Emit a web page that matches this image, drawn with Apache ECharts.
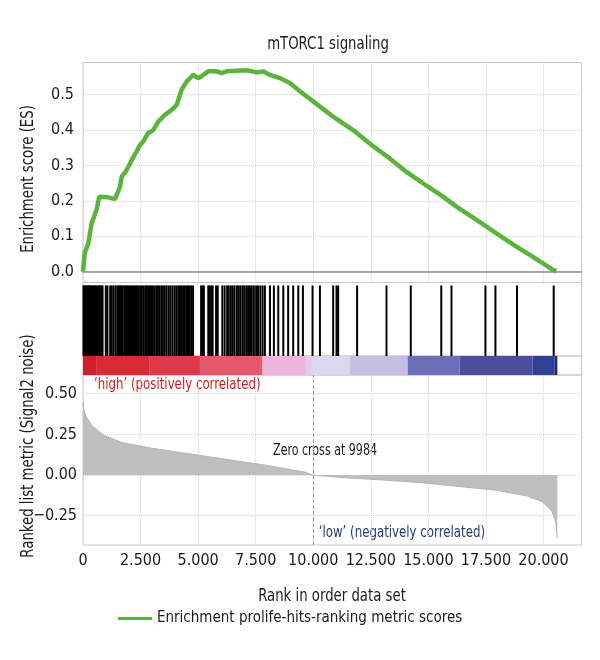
<!DOCTYPE html>
<html>
<head>
<meta charset="utf-8">
<script src="https://cdn.jsdelivr.net/npm/echarts@6/dist/echarts.min.js"></script>
<style>
  html, body { margin: 0; padding: 0; background: #fff; }
  #main { width: 600px; height: 660px; }
</style>
</head>
<body>
<div id="main"></div>
<script>
// running enrichment score
const esRank = [0, 75, 230, 375, 590, 705, 1100, 1390, 1606, 1680, 1897, 2114, 2330, 2474, 2617, 2834, 3051, 3268, 3559, 3850, 4067, 4284, 4500, 4787, 5004, 5152, 5438, 5803, 6020, 6237, 7105, 7539, 7825, 8116, 8550, 8984, 9418, 10863, 11731, 12530, 13324, 14049, 14986, 15637, 16219, 17304, 17955, 18823, 19543, 20411, 20558];
const esScore = [0, 0.053, 0.08, 0.137, 0.175, 0.212, 0.21, 0.205, 0.24, 0.268, 0.287, 0.315, 0.34, 0.358, 0.368, 0.392, 0.40, 0.424, 0.443, 0.457, 0.471, 0.514, 0.537, 0.556, 0.547, 0.552, 0.566, 0.566, 0.561, 0.566, 0.569, 0.563, 0.566, 0.556, 0.547, 0.533, 0.51, 0.438, 0.40, 0.358, 0.32, 0.282, 0.24, 0.212, 0.184, 0.137, 0.108, 0.071, 0.042, 0.005, 0.002];

// gene set hits (rank positions)
const hits = [20, 60, 110, 160, 210, 260, 300, 350, 420, 470, 520, 580, 640, 700,
  730, 790, 850, 990, 1060, 1180, 1250, 1330, 1420, 1500, 1560,
  1610, 1660, 1720, 1790, 1850, 1910, 1980, 2040, 2100, 2170, 2230, 2300, 2360, 2420, 2490, 2550, 2620, 2700, 2760, 2830, 2900, 2960, 3030, 3100, 3180, 3250, 3320, 3400, 3470, 3550, 3630, 3720, 3800, 3890, 3980, 4060, 4140, 4210, 4280, 4350, 4420, 4490, 4560, 4630, 4700, 4780,
  5130, 5190, 5250, 5440, 5500, 5570, 5630, 5780, 5850,
  6050, 6150, 6260, 6330, 6420, 6500, 6580, 6680, 6750, 6830, 6920, 7000, 7090, 7170, 7250, 7330, 7420, 7520, 7600, 7700, 7800, 7900,
  8120, 8290, 8480, 8700, 8910, 9130, 9350, 9550,
  9970, 10290, 10865, 11010, 11081, 11905, 13181, 14236, 15560, 16003, 17478, 17912, 18850, 20443];

// colour bar bands: start rank, end rank, metric level of the band
const barStart = [0, 600, 2900, 5080, 7800, 9720, 9940, 11590, 14100, 16360, 19530, 20480];
const barEnd = [600, 2900, 5080, 7800, 9720, 9940, 11590, 14100, 16360, 19530, 20480, 20600];
const barMetric = [0.40, 0.30, 0.15, 0.09, 0.03, 0.005, -0.01, -0.04, -0.07, -0.10, -0.17, -0.30];

// ranked list metric (Signal2 noise)
const metricRank = [0, 40, 120, 370, 866, 1695, 3025, 4684, 6343, 8002, 9662, 9984, 11322, 12982, 14641, 16301, 17960, 19288, 19952, 20367, 20533, 20600];
const metricValue = [0.446, 0.40, 0.364, 0.306, 0.247, 0.200, 0.164, 0.129, 0.094, 0.059, 0.017, 0, -0.016, -0.030, -0.047, -0.070, -0.094, -0.129, -0.164, -0.223, -0.293, -0.387];
const zeroCross = 9984;

const rankTicks = [0, 2500, 5000, 7500, 10000, 12500, 15000, 17500, 20000];
const esTicks = [0, 0.1, 0.2, 0.3, 0.4, 0.5];
const metricTicks = [-0.25, 0, 0.25, 0.5];
const rankMax = 21650;

const FONT = "'DejaVu Sans Condensed', 'DejaVu Sans', sans-serif";
const NARROW = 0.82;  // squeeze titles to look like the condensed original
const gridLine = { show: true, lineStyle: { color: '#d4d4d4', type: 'dotted', width: 1 } };

function rankLabel(v) {
    if (v < 1000) return String(v);
    return Math.floor(v / 1000) + '.' + String(v % 1000).padStart(3, '0');
}

function label(text, x, y, size, color, align, rot) {
    return {
        type: 'text', x: x, y: y, rotation: rot || 0, scaleX: NARROW,
        style: { text: text, fontSize: size, fontFamily: FONT, fill: color, align: align, verticalAlign: 'middle' }
    };
}

let myChart = echarts.init(document.getElementById('main'), null, { renderer: 'canvas' });

function xAxisFor(i, extra) {
    return Object.assign({
        type: 'value',
        gridIndex: i,
        min: 0,
        max: rankMax,
        interval: 2500,
        axisLabel: { show: false },
        axisTick: { show: false },
        axisLine: { show: false },
        splitLine: { show: false }
    }, extra || {});
}

let option = {
    animation: false,
    textStyle: { fontFamily: FONT },
    grid: [
        { left: 83, top: 62.5, width: 498.5, height: 220, show: true, borderColor: '#c8c8c8', borderWidth: 1 },
        { left: 83, top: 282.5, width: 498.5, height: 73.5, show: true, borderColor: '#c8c8c8', borderWidth: 1 },
        { left: 83, top: 356, width: 498.5, height: 19, show: true, borderColor: '#c8c8c8', borderWidth: 1 },
        { left: 83, top: 375, width: 498.5, height: 170, show: true, borderColor: '#c8c8c8', borderWidth: 1 }
    ],
    xAxis: [
        xAxisFor(0, {
            splitLine: gridLine,
            axisLine: { show: true, onZero: true, lineStyle: { color: '#8c8c8c', width: 1.5 } }
        }),
        xAxisFor(1),
        xAxisFor(2),
        xAxisFor(3, {
            splitLine: gridLine,
            axisLabel: {
                show: true, fontSize: 16, color: '#1a1a1a', margin: 8, fontFamily: FONT,
                showMaxLabel: false,
                formatter: rankLabel
            }
        })
    ],
    yAxis: [
        {
            type: 'value', gridIndex: 0, min: -0.0305, max: 0.591,
            axisLine: { show: false },
            axisTick: { show: false, customValues: esTicks },
            axisLabel: {
                customValues: esTicks, fontSize: 16, color: '#1a1a1a', margin: 9, fontFamily: FONT,
                formatter: function (v) { return v.toFixed(1); }
            },
            splitLine: gridLine
        },
        { type: 'value', gridIndex: 1, min: 0, max: 1, show: false },
        { type: 'value', gridIndex: 2, min: 0, max: 1, show: false },
        {
            type: 'value', gridIndex: 3, min: -0.43, max: 0.615,
            axisLine: { show: false },
            axisTick: { show: false, customValues: metricTicks },
            axisLabel: {
                customValues: metricTicks, fontSize: 16, color: '#1a1a1a', margin: 6, fontFamily: FONT,
                formatter: function (v) { return v < 0 ? '\u2212' + (-v).toFixed(2) : v.toFixed(2); }
            },
            splitLine: gridLine
        }
    ],
    visualMap: {
        type: 'piecewise',
        show: false,
        seriesIndex: 2,
        dimension: 2,
        pieces: [
            { gt: 0.35, color: '#cf1f2a' },
            { gt: 0.25, lte: 0.35, color: '#d92a36' },
            { gt: 0.12, lte: 0.25, color: '#e0394a' },
            { gt: 0.06, lte: 0.12, color: '#e45a6a' },
            { gt: 0.015, lte: 0.06, color: '#efb4dc' },
            { gt: 0, lte: 0.015, color: '#e4c8ea' },
            { gt: -0.025, lte: 0, color: '#dad7ef' },
            { gt: -0.055, lte: -0.025, color: '#c4bee2' },
            { gt: -0.085, lte: -0.055, color: '#6a6db7' },
            { gt: -0.13, lte: -0.085, color: '#4b4e9f' },
            { gt: -0.25, lte: -0.13, color: '#2e4193' },
            { lte: -0.25, color: '#2b1f7e' }
        ]
    },
    legend: {
        left: 113,
        top: 606,
        icon: 'rect',
        itemWidth: 34,
        itemHeight: 3,
        itemGap: 10,
        textStyle: { fontSize: 15, color: '#1a1a1a', fontFamily: FONT },
        data: ['Enrichment prolife-hits-ranking metric scores']
    },
    graphic: [
        label('mTORC1 signaling', 328, 44, 18, '#1a1a1a', 'center'),
        label('Enrichment score (ES)', 28, 179, 18, '#1a1a1a', 'center', Math.PI / 2),
        label('Ranked list metric (Signal2 noise)', 28, 446, 18, '#1a1a1a', 'center', Math.PI / 2),
        label('Rank in order data set', 332, 596, 18, '#1a1a1a', 'center'),
        label('\u2018high\u2019 (positively correlated)', 94, 385, 16, '#d7191c', 'left'),
        label('\u2018low\u2019 (negatively correlated)', 485, 533, 16, '#1f3c78', 'right'),
        label('Zero cross at ' + zeroCross, 325, 451, 15, '#1a1a1a', 'center')
    ],
    series: [
        {
            name: 'Enrichment prolife-hits-ranking metric scores',
            type: 'line',
            xAxisIndex: 0,
            yAxisIndex: 0,
            symbol: 'none',
            color: '#5cb33b',
            lineStyle: { width: 4.5, color: '#5cb33b' },
            data: esRank.map(function (r, i) { return [r, esScore[i]]; })
        },
        {
            type: 'custom',
            xAxisIndex: 1,
            yAxisIndex: 1,
            silent: true,
            encode: { x: 0, y: 1 },
            renderItem: function (params, api) {
                const top = api.coord([api.value(0), 0.96]);
                const bottom = api.coord([api.value(0), 0]);
                return {
                    type: 'line',
                    shape: { x1: top[0], y1: top[1], x2: bottom[0], y2: bottom[1] },
                    style: { stroke: '#000', lineWidth: 2 }
                };
            },
            data: hits.map(function (r) { return [r, 1]; })
        },
        {
            type: 'custom',
            xAxisIndex: 2,
            yAxisIndex: 2,
            silent: true,
            encode: { x: [0, 1] },
            renderItem: function (params, api) {
                const a = api.coord([api.value(0), 1]);
                const b = api.coord([api.value(1), 0]);
                return {
                    type: 'rect',
                    shape: { x: a[0], y: a[1], width: b[0] - a[0], height: b[1] - a[1] },
                    style: { fill: api.visual('color') }
                };
            },
            data: barStart.map(function (s, i) { return [s, barEnd[i], barMetric[i]]; })
        },
        {
            type: 'line',
            xAxisIndex: 3,
            yAxisIndex: 3,
            symbol: 'none',
            color: '#bdbdbd',
            lineStyle: { width: 1, color: '#b5b5b5' },
            areaStyle: { color: '#bebebe', opacity: 1 },
            data: metricRank.map(function (r, i) { return [r, metricValue[i]]; }),
            markLine: {
                silent: true,
                symbol: 'none',
                label: { show: false },
                lineStyle: { color: '#9a9a9a', type: 'dashed', width: 1 },
                data: [{ xAxis: zeroCross }]
            }
        }
    ]
};
myChart.setOption(option);
</script>
</body>
</html>
